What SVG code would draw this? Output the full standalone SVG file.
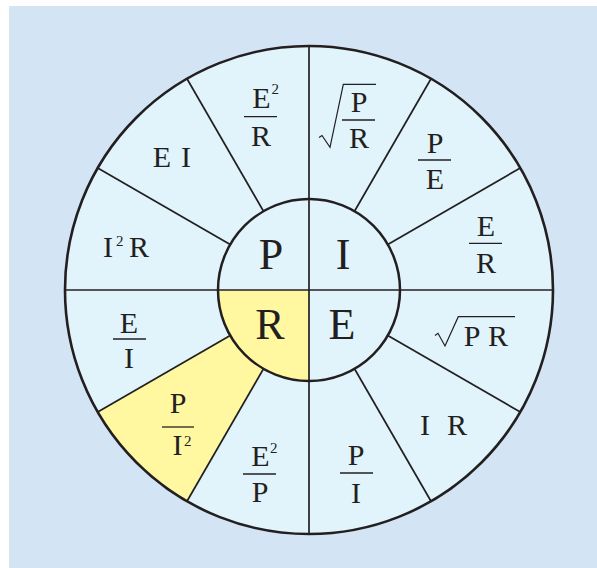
<svg xmlns="http://www.w3.org/2000/svg" width="597" height="568" viewBox="0 0 597 568">
<style>
.t{font-family:"Liberation Serif","Times New Roman",serif;fill:#231f20;text-anchor:middle}
.big{font-size:44px}
.m{font-size:30px}
.s{font-size:15px;text-anchor:start}
.ln{stroke:#231f20;stroke-width:1.7;fill:none}
.bar{stroke:#231f20;stroke-width:1.3;fill:none}
.rad{stroke:#231f20;stroke-width:1.2;fill:none;stroke-linejoin:miter}
</style>
<rect x="9" y="6" width="588" height="562" fill="#d3e5f5"/>
<circle cx="309" cy="290" r="244" fill="#e1f3fb"/>
<g id="yellow">
<path d="M230.2,335.5 L97.7,412 A244,244 0 0 0 187,501.3 L263.5,368.8 A91,91 0 0 1 230.2,335.5 Z" fill="#fff8a0"/>
<path d="M309,290 L218,290 A91,91 0 0 0 309,381 Z" fill="#fff8a0"/>
</g>
<g id="lines">
<line class="ln" x1="309" y1="46" x2="309" y2="534"/>
<line class="ln" x1="65" y1="290" x2="553" y2="290"/>
<line class="ln" x1="387.8" y1="244.5" x2="520.3" y2="168"/>
<line class="ln" x1="354.5" y1="211.2" x2="431" y2="78.7"/>
<line class="ln" x1="263.5" y1="211.2" x2="187" y2="78.7"/>
<line class="ln" x1="230.2" y1="244.5" x2="97.7" y2="168"/>
<line class="ln" x1="230.2" y1="335.5" x2="97.7" y2="412"/>
<line class="ln" x1="263.5" y1="368.8" x2="187" y2="501.3"/>
<line class="ln" x1="354.5" y1="368.8" x2="431" y2="501.3"/>
<line class="ln" x1="387.8" y1="335.5" x2="520.3" y2="412"/>
<circle cx="309" cy="290" r="91" fill="none" stroke="#231f20" stroke-width="2.5"/>
<circle cx="309" cy="290" r="244" fill="none" stroke="#231f20" stroke-width="2.6"/>
</g>
<g id="inner-P"><text class="t big" x="271" y="269">P</text></g>
<g id="inner-I"><text class="t big" x="343" y="269">I</text></g>
<g id="inner-R"><text class="t big" x="270" y="339">R</text></g>
<g id="inner-E"><text class="t big" x="342" y="339">E</text></g>
<g id="s-E2R">
<text class="t m" x="261.5" y="108">E</text><text class="t s" x="271.5" y="94">2</text>
<line class="bar" x1="244" y1="116.7" x2="277" y2="116.7"/>
<text class="t m" x="261" y="146">R</text>
</g>
<g id="s-sqrtPR-frac">
<path class="rad" d="M319,137.5 L322,135.5 L330,147.3 L343.3,84.3 L376,84.3"/>
<text class="t m" x="359" y="112">P</text>
<line class="bar" x1="342" y1="120" x2="375" y2="120"/>
<text class="t m" x="359" y="148">R</text>
</g>
<g id="s-PE">
<text class="t m" x="435" y="152.7">P</text>
<line class="bar" x1="418" y1="160" x2="451" y2="160"/>
<text class="t m" x="435" y="189">E</text>
</g>
<g id="s-ER">
<text class="t m" x="486" y="236">E</text>
<line class="bar" x1="469" y1="243.3" x2="502" y2="243.3"/>
<text class="t m" x="486" y="272.7">R</text>
</g>
<g id="s-sqrtPR">
<path class="rad" d="M435,335.5 L438,333.3 L445,346 L458.3,316.7 L515,316.7"/>
<text class="t m" x="472" y="345.7">P</text>
<text class="t m" x="498" y="345.7">R</text>
</g>
<g id="s-IR">
<text class="t m" x="425" y="435">I</text>
<text class="t m" x="457" y="435">R</text>
</g>
<g id="s-PI">
<text class="t m" x="356" y="465">P</text>
<line class="bar" x1="340" y1="473" x2="373" y2="473"/>
<text class="t m" x="356" y="503">I</text>
</g>
<g id="s-E2P">
<text class="t m" x="260.5" y="466">E</text><text class="t s" x="270" y="452.5">2</text>
<line class="bar" x1="243" y1="474" x2="276" y2="474"/>
<text class="t m" x="260" y="502">P</text>
</g>
<g id="s-PI2">
<text class="t m" x="178" y="413">P</text>
<line class="bar" x1="162" y1="427" x2="194" y2="427"/>
<text class="t m" x="177.5" y="455">I</text><text class="t s" x="184" y="445.5">2</text>
</g>
<g id="s-EI">
<text class="t m" x="129" y="333">E</text>
<line class="bar" x1="113" y1="339" x2="146" y2="339"/>
<text class="t m" x="129" y="368">I</text>
</g>
<g id="s-I2R">
<text class="t m" x="108" y="256.7">I</text><text class="t s" x="116" y="245.5">2</text>
<text class="t m" x="139" y="256.7">R</text>
</g>
<g id="s-EI2">
<text class="t m" x="162" y="166.7">E</text>
<text class="t m" x="186" y="166.7">I</text>
</g>
</svg>
